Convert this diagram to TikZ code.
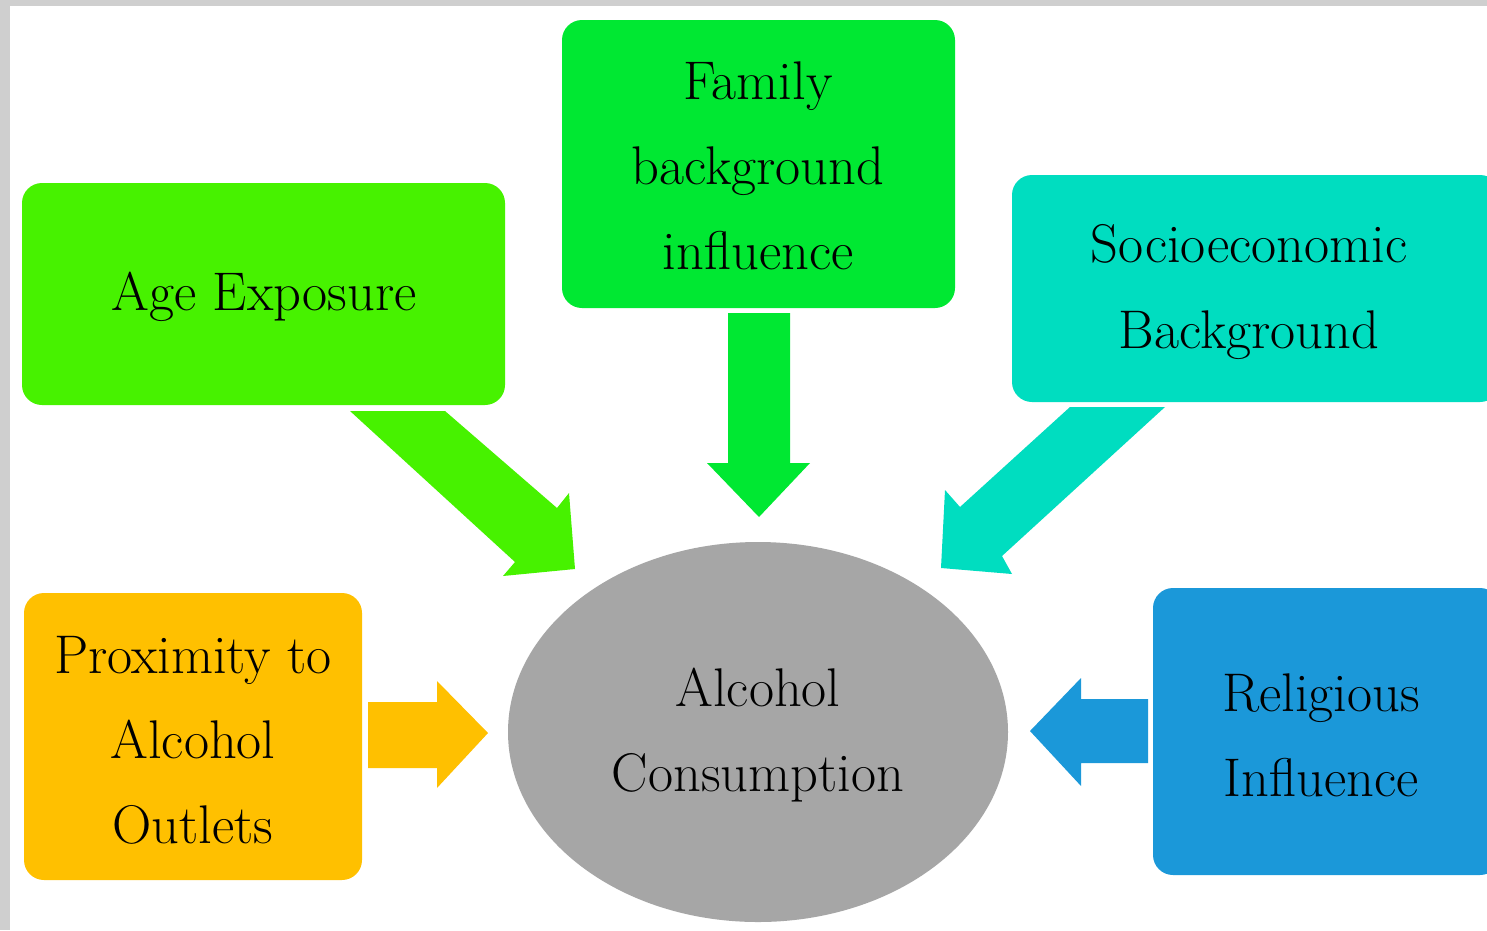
\documentclass[tikz,border=0pt]{standalone}
\usetikzlibrary{shapes.geometric}
\definecolor{cAge}{HTML}{47F200}
\definecolor{cFam}{HTML}{00E832}
\definecolor{cSoc}{HTML}{00DDC0}
\definecolor{cPro}{HTML}{FFC000}
\definecolor{cRel}{HTML}{1B98D9}
\definecolor{cAlc}{HTML}{A6A6A6}
\definecolor{cFrame}{HTML}{CFCFCF}
\begin{document}
\begin{tikzpicture}[x=0.02cm,y=-0.02cm,
  box/.style={rounded corners=0.4cm},
  lbl/.style={align=center,text=black,font=\fontsize{31}{48.4}\selectfont,inner sep=0pt}]
\useasboundingbox (0,0) rectangle (1487,930);
\fill[white] (0,0) rectangle (1487,930);
\fill[cFrame] (0,0) rectangle (1487,6);
\fill[cFrame] (0,0) rectangle (10,930);
% boxes
\fill[cAge,box] (22,183) rectangle (505,405);
\fill[cFam,box] (562,20) rectangle (955,308);
\fill[cSoc,box] (1012,175) rectangle (1500,402);
\fill[cPro,box] (24,593) rectangle (362,880);
\fill[cRel,box] (1153,588) rectangle (1500,875);
\fill[cAlc] (758,732) ellipse [x radius=250, y radius=190];
% arrows
\fill[cAge] (350,411) -- (445,411) -- (557,508) -- (569,493) -- (575,569) -- (503,576) -- (515,562) -- cycle;
\fill[cFam] (728,313) -- (790,313) -- (790,463) -- (810,463) -- (759,517) -- (707,463) -- (728,463) -- cycle;
\fill[cSoc] (1070,407) -- (1165,407) -- (1002,556) -- (1012,574) -- (941,568) -- (945,490) -- (960,507) -- cycle;
\fill[cPro] (368,702) -- (437,702) -- (437,681) -- (488,733) -- (437,788) -- (437,768) -- (368,768) -- cycle;
\fill[cRel] (1148,699) -- (1081,699) -- (1081,678) -- (1030,731) -- (1081,786) -- (1081,763) -- (1148,763) -- cycle;
% labels
\node[lbl] (age) at (264,297) {Age Exposure};
\node[lbl] (fam) at (758,166) {Family\\background\\influence};
\node[lbl] (soc) at (1249,292) {Socioeconomic\\Background};
\node[lbl] (pro) at (193,740) {Proximity to\\Alcohol\\Outlets};
\node[lbl] (alc) at (758,735) {Alcohol\\Consumption};
\node[lbl] (rel) at (1321,735) {Religious\\Influence};
\end{tikzpicture}
\end{document}
